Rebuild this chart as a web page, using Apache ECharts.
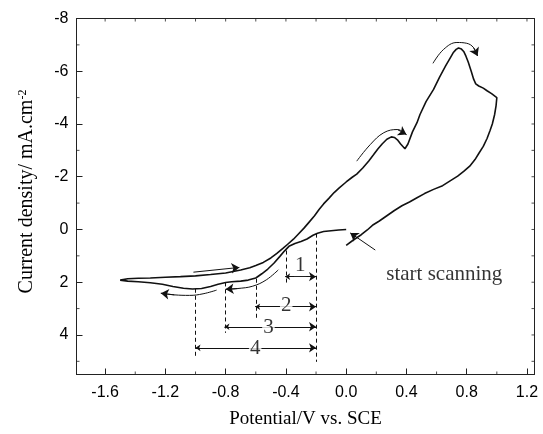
<!DOCTYPE html>
<html>
<head>
<meta charset="utf-8">
<script src="https://cdn.jsdelivr.net/npm/echarts@6/dist/echarts.min.js"></script>
<style>
html, body { margin: 0; padding: 0; background: #fff; }
#chart { width: 543px; height: 434px; }
</style>
</head>
<body>
<div id="chart"></div>
<script>
// axis range and tick positions
const xMin = -1.79
const xMax = 1.25
const yMin = -8
const yMax = 5.5
const xMajorTicks = [-1.6, -1.2, -0.8, -0.4, 0, 0.4, 0.8, 1.2]
const xMinorTicks = [-1.4, -1.0, -0.6, -0.2, 0.2, 0.6, 1.0]
const yMajorTicks = [-8, -6, -4, -2, 0, 2, 4]
const yMinorTicks = [-7, -5, -3, -1, 1, 3, 5]

// scan from 0 V towards negative potential
const sweepCathodic = [
  [0.0, 0.0], [-0.05, 0.02], [-0.1, 0.05], [-0.15, 0.08], [-0.19, 0.14], [-0.22, 0.22],
  [-0.26, 0.36], [-0.3, 0.46], [-0.34, 0.53], [-0.38, 0.64], [-0.41, 0.82], [-0.44, 1.02],
  [-0.48, 1.28], [-0.52, 1.5], [-0.56, 1.68], [-0.6, 1.84], [-0.65, 1.92], [-0.7, 1.96],
  [-0.76, 1.98], [-0.8, 2.01], [-0.85, 2.08], [-0.9, 2.16], [-0.96, 2.24], [-1.02, 2.26],
  [-1.08, 2.23], [-1.15, 2.16], [-1.22, 2.08], [-1.3, 2.02], [-1.38, 1.98], [-1.45, 1.96],
  [-1.5, 1.92]
]
// scan from -1.5 V up to 1.0 V
const sweepAnodic = [
  [-1.45, 1.87], [-1.38, 1.85], [-1.3, 1.84], [-1.2, 1.81], [-1.1, 1.79], [-1.0, 1.76],
  [-0.9, 1.71], [-0.8, 1.65], [-0.7, 1.54], [-0.64, 1.45], [-0.6, 1.37], [-0.55, 1.25],
  [-0.5, 1.08], [-0.46, 0.91], [-0.42, 0.72], [-0.39, 0.57], [-0.35, 0.37], [-0.32, 0.19],
  [-0.28, -0.05], [-0.25, -0.25], [-0.21, -0.52], [-0.18, -0.76], [-0.15, -0.97],
  [-0.115, -1.18], [-0.08, -1.4], [-0.046, -1.58], [0.0, -1.8], [0.04, -1.98], [0.07, -2.1],
  [0.11, -2.33], [0.15, -2.6], [0.18, -2.82], [0.21, -3.05], [0.24, -3.25], [0.27, -3.42],
  [0.3, -3.51], [0.32, -3.49], [0.34, -3.4], [0.36, -3.25], [0.39, -3.06], [0.41, -3.24],
  [0.44, -3.7], [0.47, -4.05], [0.49, -4.36], [0.53, -4.85], [0.58, -5.31], [0.62, -5.78],
  [0.66, -6.2], [0.69, -6.5], [0.71, -6.7], [0.73, -6.83], [0.746, -6.88], [0.765, -6.84],
  [0.78, -6.75], [0.795, -6.57], [0.81, -6.35], [0.83, -6.0], [0.846, -5.7], [0.86, -5.52],
  [0.88, -5.44], [0.91, -5.36], [0.935, -5.26], [0.965, -5.15], [1.0, -5.0]
]
// scan back from 1.0 V
const sweepReturn = [
  [0.995, -4.7], [0.985, -4.35], [0.97, -4.0], [0.955, -3.75], [0.935, -3.45], [0.91, -3.15],
  [0.88, -2.88], [0.855, -2.65], [0.82, -2.4], [0.78, -2.2], [0.74, -2.02], [0.69, -1.84],
  [0.64, -1.66], [0.58, -1.52], [0.52, -1.36], [0.47, -1.2], [0.42, -1.04], [0.37, -0.9],
  [0.32, -0.72], [0.27, -0.52], [0.22, -0.32], [0.18, -0.18], [0.14, 0.02], [0.1, 0.2],
  [0.05, 0.39], [0.0, 0.6]
]

// dashed potential markers
const markerPotential = [-0.2, -0.4, -0.6, -0.8, -1.0]
const markerFrom = [0.16, 0.8, 1.87, 2.01, 2.25]
const markerTo = [5.02, 2.05, 3.37, 3.92, 4.83]

// span arrows 1..4
const spanNames = ['1', '2', '3', '4']
const spanStart = [-0.405, -0.604, -0.808, -1.0]
const spanEnd = -0.2
const spanLevel = [1.79, 2.93, 3.69, 4.49]
const spanTextPos = [[-0.305, 1.37], [-0.398, 2.88], [-0.516, 3.71], [-0.604, 4.53]]

// direction arrows
const arrowRight = [[-1.014, 1.62], [-0.709, 1.44]]
const arrowLower1 = [[-0.45, 1.53], [-0.53, 1.91], [-0.62, 2.15], [-0.72, 2.24], [-0.8, 2.27]]
const arrowLower2 = [[-0.86, 2.3], [-0.95, 2.44], [-1.04, 2.5], [-1.14, 2.48], [-1.23, 2.42]]
const arrowHump = [[0.07, -2.59], [0.16, -3.22], [0.25, -3.67], [0.34, -3.79], [0.4, -3.6]]
const arrowPeak = [[0.576, -6.3], [0.647, -6.83], [0.735, -7.09], [0.8, -7.06], [0.845, -6.9], [0.872, -6.58]]
const arrowStart = [[0.193, 0.78], [0.027, 0.13]]
const startText = [0.651, 1.7]

const serif = 'Liberation Serif'
const sans = 'Liberation Sans'
const ink = '#111'
const frame = '#222'

const chart = echarts.init(document.getElementById('chart'))

const curveBody = (pts) => ({
  type: 'line', data: pts, smooth: 0.4, symbol: 'none', silent: true,
  lineStyle: { color: ink, width: 1 }
})
const head = (pts) => [pts[pts.length - 2], pts[pts.length - 1]]

// small inward ticks on the frame (minor ticks, top and right side)
const tickMarks = (points, size, offset) => ({
  type: 'scatter', silent: true, clip: false, z: 4,
  symbol: 'rect', symbolSize: size, symbolOffset: offset,
  itemStyle: { color: frame },
  data: points
})
const xAll = xMajorTicks.concat(xMinorTicks)
const yAll = yMajorTicks.concat(yMinorTicks)

const option = {
  animation: false,
  grid: {
    left: 76.5, right: 8.5, top: 18.5, bottom: 59.5,
    show: true, borderColor: frame, borderWidth: 1, backgroundColor: '#fff'
  },
  xAxis: {
    type: 'value', min: xMin, max: xMax,
    splitLine: { show: false },
    axisLine: { onZero: false, lineStyle: { color: frame, width: 1 } },
    axisTick: { inside: true, length: 6, customValues: xMajorTicks, lineStyle: { color: frame } },
    axisLabel: {
      customValues: xMajorTicks, margin: 10,
      fontFamily: sans, fontSize: 16, color: '#000',
      formatter: v => v.toFixed(1)
    },
    name: 'Potential/V vs. SCE', nameLocation: 'middle', nameGap: 35,
    nameTextStyle: { fontFamily: serif, fontSize: 19, color: '#000' }
  },
  yAxis: {
    type: 'value', min: yMin, max: yMax, inverse: true,
    splitLine: { show: false },
    axisLine: { onZero: false, lineStyle: { color: frame, width: 1 } },
    axisTick: { inside: true, length: 6, customValues: yMajorTicks, lineStyle: { color: frame } },
    axisLabel: {
      customValues: yMajorTicks, margin: 8,
      fontFamily: sans, fontSize: 16, color: '#000'
    },
    name: 'Current density/ mA.cm{sup|-2}', nameLocation: 'middle', nameGap: 40,
    nameTextStyle: {
      fontFamily: serif, fontSize: 20, color: '#000', padding: [0, 0, 0, 10],
      rich: { sup: { fontFamily: serif, fontSize: 12, color: '#000', verticalAlign: 'top', padding: [0, 0, 8, 0] } }
    }
  },
  series: [
    {
      type: 'line',
      data: sweepCathodic.concat(sweepAnodic, sweepReturn),
      symbol: 'none', silent: true, z: 5,
      lineStyle: { color: ink, width: 1.6 }
    },
    {
      // top and right edges of the frame
      type: 'lines', coordinateSystem: 'cartesian2d', silent: true, clip: false,
      symbol: 'none',
      lineStyle: { color: frame, width: 1, opacity: 1 },
      data: [
        { coords: [[xMin, yMin], [xMax, yMin]] },
        { coords: [[xMax, yMin], [xMax, yMax]] }
      ]
    },
    {
      type: 'lines', coordinateSystem: 'cartesian2d', silent: true,
      symbol: 'none',
      lineStyle: { color: ink, width: 1, type: [4, 3], opacity: 1 },
      data: markerPotential.map((p, i) => ({ coords: [[p, markerFrom[i]], [p, markerTo[i]]] }))
    },
    {
      type: 'lines', coordinateSystem: 'cartesian2d', silent: true,
      symbol: ['arrow', 'arrow'], symbolSize: [5, 7],
      lineStyle: { color: ink, width: 1, opacity: 1 },
      data: spanStart.map((s, i) => ({ coords: [[s, spanLevel[i]], [spanEnd, spanLevel[i]]] }))
    },
    curveBody(arrowLower1),
    curveBody(arrowLower2),
    curveBody(arrowHump),
    curveBody(arrowPeak),
    {
      type: 'lines', coordinateSystem: 'cartesian2d', silent: true,
      symbol: ['none', 'arrow'], symbolSize: [5, 8],
      lineStyle: { color: ink, width: 1, opacity: 1 },
      data: [arrowRight, arrowStart, head(arrowLower1), head(arrowLower2), head(arrowHump), head(arrowPeak)]
        .map(c => ({ coords: c }))
    },
    tickMarks(xMinorTicks.map(v => [v, yMax]), [1, 3], [0, -1.5]),
    tickMarks(yMinorTicks.map(v => [xMin, v]), [3, 1], [1.5, 0]),
    tickMarks(xAll.map(v => [v, yMin]), [1, 3], [0, 1.5]),
    tickMarks(yAll.map(v => [xMax, v]), [3, 1], [-1.5, 0]),
    {
      type: 'scatter', silent: true, symbolSize: 1, z: 6,
      itemStyle: { color: 'rgba(0,0,0,0)' },
      label: {
        show: true, position: 'inside', formatter: '{b}',
        fontFamily: serif, fontSize: 21, color: '#000',
        backgroundColor: '#fff', padding: [0, 1]
      },
      data: spanNames.map((n, i) => ({ name: n, value: spanTextPos[i] }))
        .concat([{ name: 'start scanning', value: startText, label: { backgroundColor: 'transparent' } }])
    }
  ]
}

chart.setOption(option)
</script>
</body>
</html>
